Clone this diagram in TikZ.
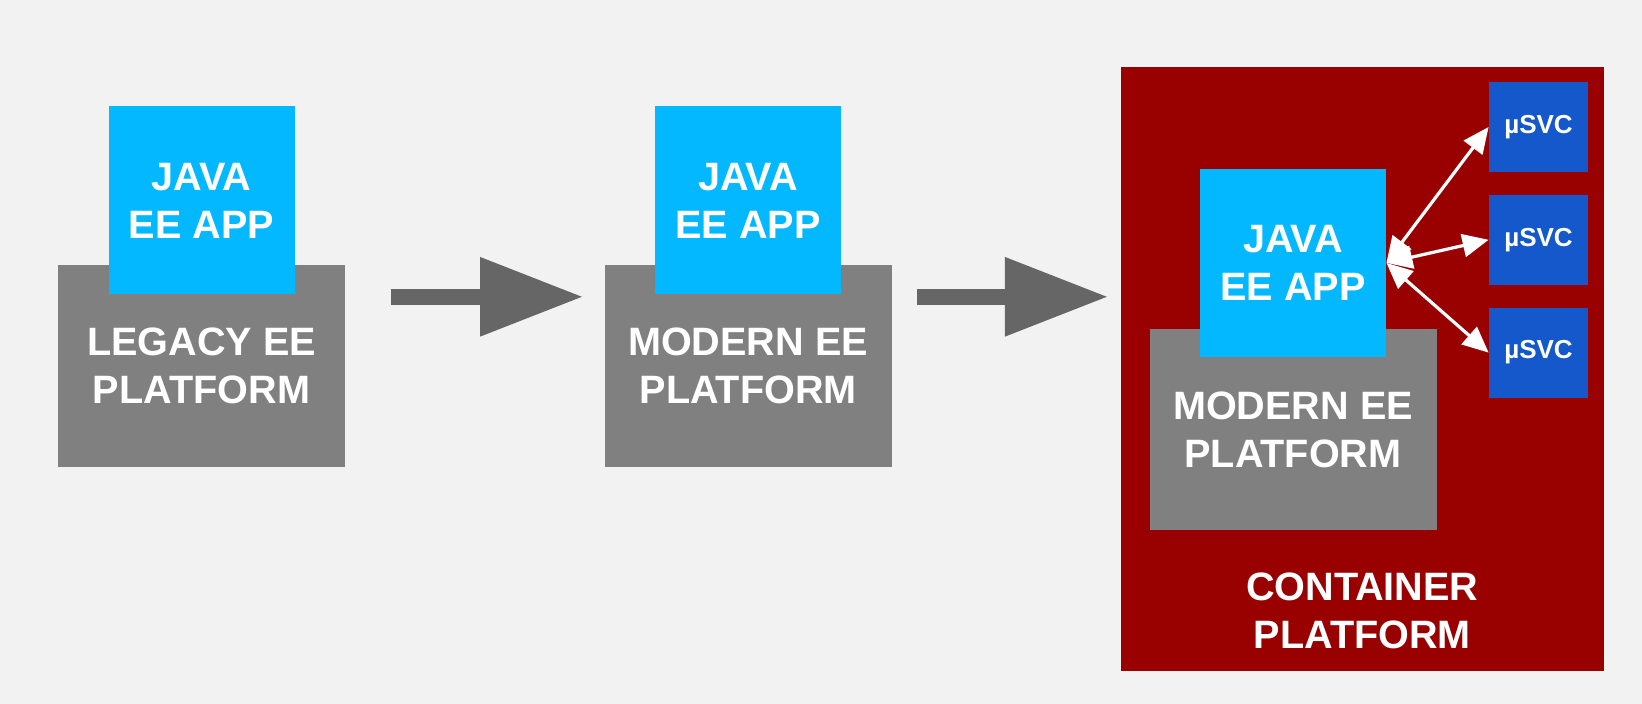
\documentclass[tikz,border=0pt]{standalone}
\usepackage{fontspec}
\setmainfont{Liberation Sans}
\usepackage{xcolor}
\usepackage{tikz}
\usetikzlibrary{arrows.meta, positioning, calc}

\definecolor{bggray}{RGB}{242,242,242}
\definecolor{appblue}{RGB}{3,184,255}
\definecolor{platgray}{RGB}{128,128,128}
\definecolor{contred}{RGB}{153,0,0}
\definecolor{svcblue}{RGB}{21,88,204}
\definecolor{arrgray}{RGB}{102,102,102}

\begin{document}
\begin{tikzpicture}[x=0.5pt, y=-0.5pt,
    app/.style={rectangle, fill=appblue, minimum width=93pt, minimum height=94pt, inner sep=0pt, align=center, text=white, font=\bfseries\fontsize{19.8}{24}\selectfont},
    plat/.style={rectangle, fill=platgray, minimum width=143.5pt, minimum height=100.8pt, inner sep=0pt, align=center, text=white, font=\bfseries\fontsize{19.8}{24}\selectfont},
    cont/.style={rectangle, fill=contred, minimum width=241.8pt, minimum height=301.9pt, inner sep=0pt},
    svc/.style={rectangle, fill=svcblue, minimum width=49.5pt, minimum height=45pt, inner sep=0pt, text=white, font=\bfseries\fontsize{13}{15}\selectfont},
    lbl/.style={inner sep=0pt, align=center, text=white, font=\bfseries\fontsize{19.8}{24}\selectfont},
    bigarr/.style={arrgray, line width=8pt, -{Triangle[length=51.7pt, width=37.5pt]}},
    link/.style={white, line width=1.6pt, {Triangle[length=13pt, width=11.5pt]}-{Triangle[length=13pt, width=11.5pt]}}
]
% Background
\fill[bggray] (0,0) rectangle (1642,704);

% Stage 1: legacy
\node[plat] (plat1) at (201.5,366) {LEGACY EE\\PLATFORM};
\node[app, above=-15pt of plat1] (java1) {JAVA\\EE APP};

% Stage 2: modern
\node[plat, right=129.4pt of plat1] (plat2) {MODERN EE\\PLATFORM};
\node[app, above=-15pt of plat2] (java2) {JAVA\\EE APP};

% Stage 3: container platform
\node[cont] (container) at (1362.3,368.8) {};
\node[lbl, above=10.7pt of container.south] (contlbl) {CONTAINER\\PLATFORM};
\node[plat] (plat3) at (1293,429.5) {MODERN EE\\PLATFORM};
\node[app, above=-14.5pt of plat3] (java3) {JAVA\\EE APP};

% Microservices
\node[svc] (svc1) at (1538.5,127) {µSVC};
\node[svc, below=11pt of svc1] (svc2) {µSVC};
\node[svc, below=11pt of svc2] (svc3) {µSVC};

% Arrows between stages
\coordinate (s1) at ([shift={(23pt,-16pt)}]plat1.north east);
\coordinate (s2) at ([shift={(12.5pt,-16pt)}]plat2.north east);
\draw[bigarr, shorten >=10.4pt] (s1) -- (s1 -| plat2.west);
\draw[bigarr, shorten >=5.9pt] (s2) -- (s2 -| container.west);

% Links to microservices
\draw[link] (java3.east) -- (svc1.west);
\draw[link] (java3.east) -- (svc2.west);
\draw[link] (java3.east) -- (svc3.west);
\end{tikzpicture}
\end{document}
